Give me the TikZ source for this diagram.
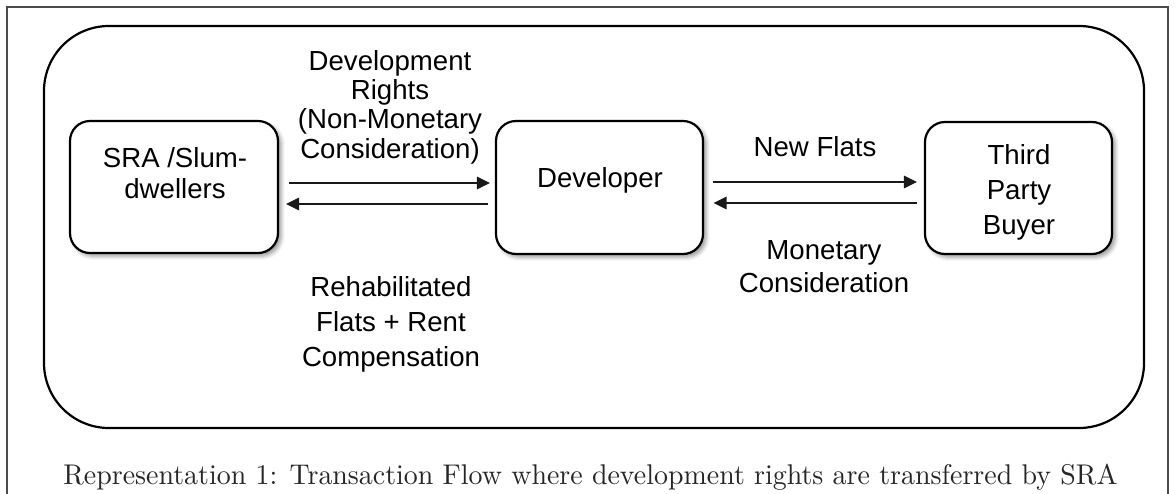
\documentclass[tikz,border=0pt]{standalone}
\usepackage{fontspec}
\usepackage{graphicx}
\newfontfamily\diagfont{Liberation Sans}
\usetikzlibrary{arrows.meta,shadows.blur,calc}

\begin{document}
\begin{tikzpicture}[x=0.5pt,y=-0.5pt,
  frame/.style={draw=black!70, line width=0.7pt},
  panel/.style={draw=black, line width=1.1pt, rounded corners=32.5pt, inner sep=0pt},
  party/.style={draw=black, fill=white, line width=1.1pt, rounded corners=10pt, inner sep=0pt,
    blur shadow={shadow xshift=1.6pt, shadow yshift=-1.6pt, shadow blur radius=2pt, shadow opacity=40}},
  flow/.style={-{Triangle[length=6.5pt,width=6.3pt]}, line width=0.65pt, draw=black!90},
  txt/.style={font=\diagfont\fontsize{13.8}{#1}\selectfont, align=center, inner sep=0pt, text=black},
  txt/.default=17pt]
\useasboundingbox (0,0) rectangle (1176,493);
\clip (0,0) rectangle (1176,493);

% page frame, open at the bottom
\draw[frame] (7,520) -- (7,7) -- (1168,7) -- (1168,520);

% enclosing panel
\node[panel, minimum width=550pt, minimum height=201pt] (panel) at (594,227) {};

% parties
\node[party, minimum width=104pt, minimum height=66pt] (sra) at (174,187) {};
\node[party, minimum width=103.5pt, minimum height=66.5pt] (dev) at (599.5,187.5) {};
\node[party, minimum width=93.5pt, minimum height=66pt] (tpb) at (1018.5,188) {};

\node[txt=15.5pt] (sra-t) at (175,173.5) {SRA /Slum-\\dwellers};
\node[txt] (dev-t) at (600,180) {Developer};
\node[txt=17.5pt] (tpb-t) at (1019,192.5) {Third\\Party\\Buyer};

% flows between the parties
\draw[flow, shorten <=5pt, shorten >=2.5pt]
  ([yshift=2pt]sra.east) -- ([yshift=2pt]sra.east -| dev.west);
\draw[flow, shorten <=3.5pt, shorten >=3.5pt]
  ([yshift=-8.5pt]sra.east -| dev.west) -- ([yshift=-8.5pt]sra.east);
\draw[flow, shorten <=4.5pt, shorten >=3.5pt]
  ([yshift=2.75pt]dev.east) -- ([yshift=2.75pt]dev.east -| tpb.west);
\draw[flow, shorten <=3.5pt, shorten >=4.75pt]
  ([yshift=-7.75pt]dev.east -| tpb.west) -- ([yshift=-7.75pt]dev.east);

% flow labels
\node[txt=14.7pt] (dr) at (390,107) {Development\\Rights\\(Non-Monetary\\Consideration)};
\node[txt=17.5pt] (rf) at (391,324) {Rehabilitated\\Flats + Rent\\Compensation};
\node[txt] (nf) at (815,147) {New Flats};
\node[txt=16.5pt] (mc) at (824,266.5) {Monetary\\Consideration};

% caption
\node[anchor=base west, inner sep=0pt, text=black!85] (cap) at (63,484)
  {\resizebox{527pt}{10.2pt}{Representation 1: Transaction Flow where development rights are transferred by SRA}};
\end{tikzpicture}
\end{document}
